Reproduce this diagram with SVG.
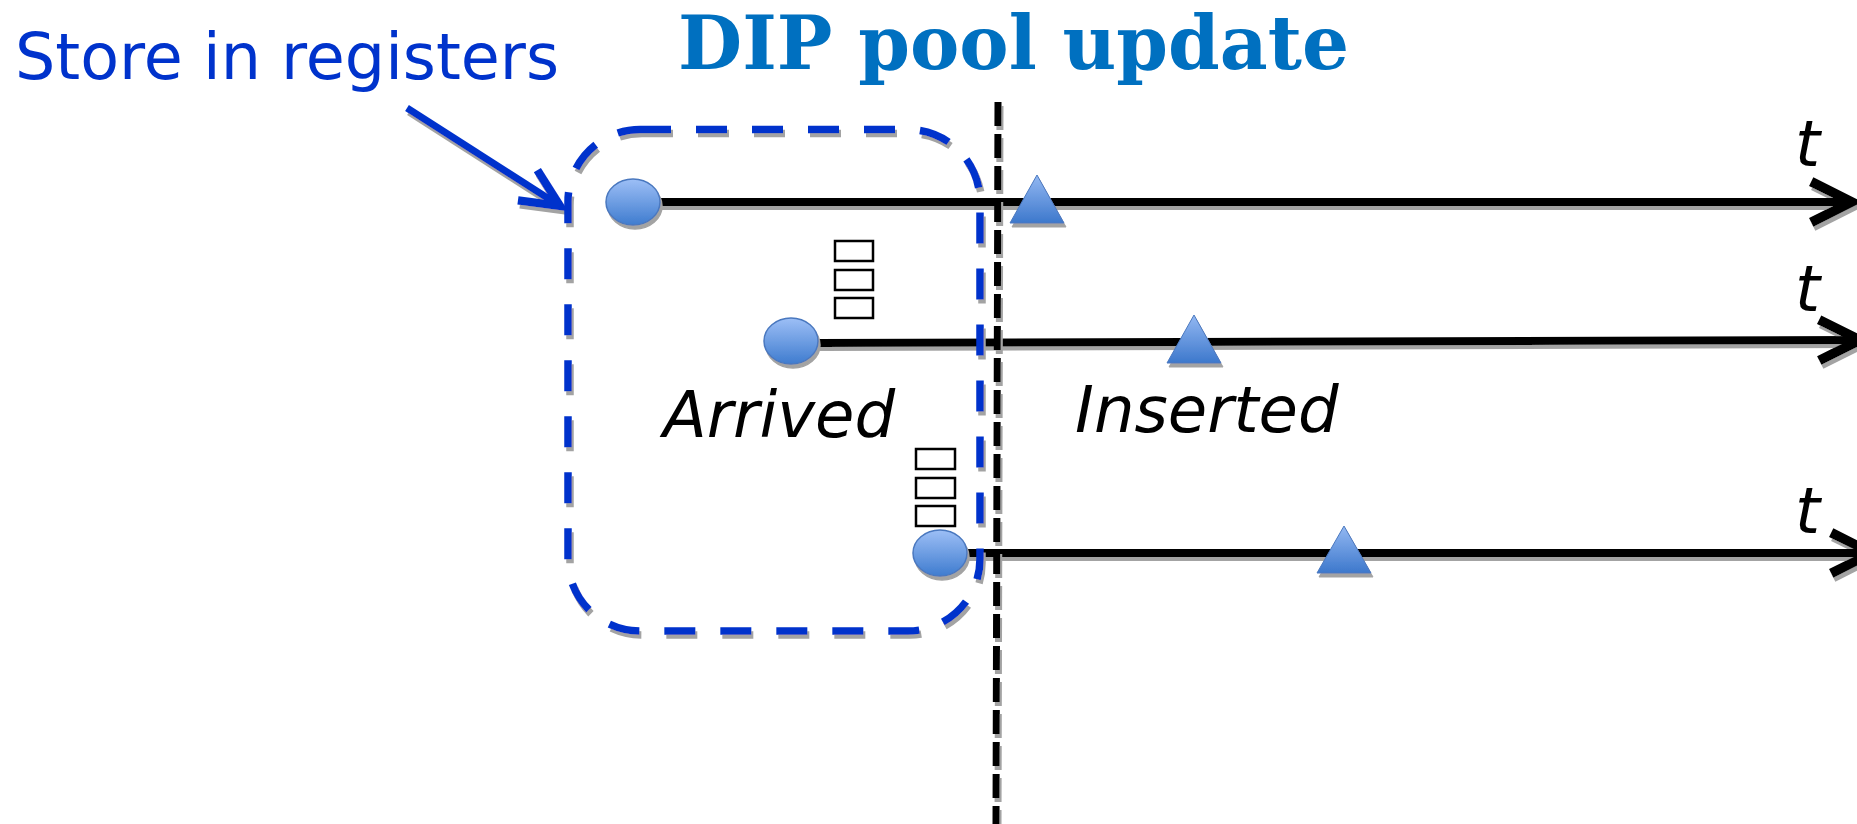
<svg xmlns="http://www.w3.org/2000/svg" width="1857" height="824" viewBox="0 0 1857 824">
  <defs>
    <filter id="shadow" filterUnits="userSpaceOnUse" x="0" y="0" width="1857" height="824">
      <feDropShadow dx="2" dy="4" stdDeviation="0" flood-color="#a3a3a3" flood-opacity="1"/>
    </filter>
    <linearGradient id="ballFill" x1="0" y1="0" x2="0" y2="1">
      <stop offset="0" stop-color="#9dbff6"/>
      <stop offset="1" stop-color="#3f7ccf"/>
    </linearGradient>
    <linearGradient id="triFill" x1="0" y1="0" x2="0" y2="1">
      <stop offset="0" stop-color="#93b8f2"/>
      <stop offset="1" stop-color="#3d78cc"/>
    </linearGradient>
    <marker id="chevron" markerUnits="userSpaceOnUse" markerWidth="60" markerHeight="60" viewBox="-40 -25 50 50" refX="0" refY="0" orient="auto" overflow="visible">
      <path d="M-34,-17 L0,0 L-34,17" fill="none" stroke="#000" stroke-width="8" stroke-linejoin="miter"/>
    </marker>
    <marker id="blueHead" markerUnits="userSpaceOnUse" markerWidth="60" markerHeight="60" viewBox="-40 -25 50 50" refX="0" refY="0" orient="auto" overflow="visible">
      <path d="M-32,-15 L0,0 L-32,15" fill="none" stroke="#0033cc" stroke-width="7" stroke-linejoin="miter"/>
    </marker>
  </defs>
  <style>
    .axis { fill: none; stroke: #000; stroke-width: 8; marker-end: url(#chevron); }
    .ball { fill: url(#ballFill); stroke: #4a78bf; stroke-width: 1.5; }
    .tri { fill: url(#triFill); stroke: #4a78bf; stroke-width: 1; }
    .dots { fill: none; stroke: #000; stroke-width: 2.5; }
    .label { font-family: "DejaVu Sans", "Liberation Sans", sans-serif; font-style: italic; font-size: 64px; fill: #000; }
  </style>

  <rect width="1857" height="824" fill="#fff"/>

  <!-- title -->
  <g id="title">
    <text x="678" y="69" font-family="DejaVu Serif, 'Liberation Serif', serif" font-weight="bold" font-size="74" fill="#0070c0" textLength="671" lengthAdjust="spacingAndGlyphs">DIP pool update</text>
  </g>

  <!-- annotation -->
  <g id="store-label">
    <text x="15" y="79" font-family="'DejaVu Sans', 'Liberation Sans', sans-serif" font-size="63.5" fill="#0033cc">Store in registers</text>
  </g>

  <!-- time axes and pointer -->
  <g id="connectors" filter="url(#shadow)">
    <path class="axis" d="M660,202 L1852,202"/>
    <path class="axis" d="M818,343 L1860,340"/>
    <path class="axis" d="M967,553 L1872,553"/>
    <path d="M407,108 L560,206" fill="none" stroke="#0033cc" stroke-width="7" marker-end="url(#blueHead)"/>
  </g>

  <!-- arrival points -->
  <g id="arrival-1" filter="url(#shadow)">
    <ellipse class="ball" cx="633" cy="202" rx="27" ry="23"/>
  </g>
  <g id="arrival-2" filter="url(#shadow)">
    <ellipse class="ball" cx="791" cy="341" rx="27" ry="23"/>
  </g>
  <g id="arrival-3" filter="url(#shadow)">
    <ellipse class="ball" cx="940" cy="553" rx="27" ry="23"/>
  </g>

  <!-- insertion points -->
  <g id="insert-1" filter="url(#shadow)">
    <polygon class="tri" points="1037,175 1010,223 1064,223"/>
  </g>
  <g id="insert-2" filter="url(#shadow)">
    <polygon class="tri" points="1194,315 1167,363 1221,363"/>
  </g>
  <g id="insert-3" filter="url(#shadow)">
    <polygon class="tri" points="1344,526 1317,573 1371,573"/>
  </g>

  <!-- stacked markers between axes -->
  <g id="gap-marks-1">
    <rect class="dots" x="835" y="241" width="38" height="20"/>
    <rect class="dots" x="835" y="270" width="38" height="20"/>
    <rect class="dots" x="835" y="298" width="38" height="20"/>
  </g>
  <g id="gap-marks-2">
    <rect class="dots" x="916" y="449" width="39" height="20"/>
    <rect class="dots" x="916" y="478" width="39" height="20"/>
    <rect class="dots" x="916" y="506" width="39" height="20"/>
  </g>

  <!-- register region -->
  <g id="register-box" filter="url(#shadow)">
    <rect x="568" y="129.5" width="412" height="501.5" rx="72" ry="72" fill="none" stroke="#0033cc" stroke-width="7.5" stroke-dasharray="31 25"/>
  </g>

  <!-- update instant -->
  <g id="update-line" filter="url(#shadow)">
    <path d="M998,102 L996,824" fill="none" stroke="#000" stroke-width="7" stroke-dasharray="24 8"/>
  </g>

  <!-- labels -->
  <g id="labels">
    <text class="label" x="663" y="437">Arrived</text>
    <text class="label" x="1075" y="432">Inserted</text>
    <text class="label" x="1795" y="166">t</text>
    <text class="label" x="1795" y="311">t</text>
    <text class="label" x="1795" y="533">t</text>
  </g>
</svg>
